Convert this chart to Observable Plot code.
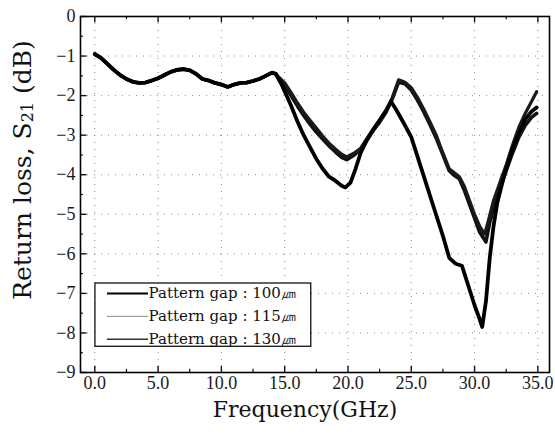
<!DOCTYPE html>
<html>
<head>
<meta charset="utf-8">
<script src="https://cdn.jsdelivr.net/npm/d3@7"></script>
<script src="https://cdn.jsdelivr.net/npm/@observablehq/plot@0.6"></script>
<style>
  html, body { margin: 0; padding: 0; background: #fff; }
  #chart svg { display: block; font-family: 'Liberation Serif', serif; }
  #chart [aria-label="x-axis tick label"] text,
  #chart [aria-label="y-axis tick label"] text { font-family: 'Liberation Serif', serif; }
</style>
</head>
<body>
<div id="chart"></div>
<script>
// ---- data ----
const seriesNames = ["Pattern gap : 100㎛", "Pattern gap : 115㎛", "Pattern gap : 130㎛"];

// common part (all three curves overlap from 0 to ~14 GHz)
const commonFreq = [0.0, 0.5, 1.0, 1.5, 2.0, 2.5, 3.0, 3.5, 4.0, 4.5, 5.0, 5.5, 6.0, 6.5, 7.0, 7.5, 8.0, 8.5, 9.0, 9.5, 10.0, 10.5, 11.0, 11.5, 12.0, 12.5, 13.0, 13.5, 14.0, 14.3];
const commonLoss = [-0.95, -1.05, -1.2, -1.35, -1.48, -1.58, -1.65, -1.68, -1.67, -1.62, -1.56, -1.48, -1.40, -1.35, -1.33, -1.36, -1.45, -1.58, -1.62, -1.68, -1.72, -1.78, -1.72, -1.68, -1.67, -1.63, -1.58, -1.50, -1.42, -1.45];

const freq100 = [14.8, 15.5, 16.0, 16.5, 17.0, 17.5, 18.0, 18.5, 19.0, 19.5, 19.8, 20.2, 20.6, 21.0, 21.5, 22.0, 22.5, 23.0, 23.4, 23.8, 24.5, 25.0, 25.5, 26.0, 26.5, 27.0, 27.5, 28.0, 28.5, 29.0, 29.5, 30.0, 30.4, 30.6, 30.9, 31.2, 31.5, 31.8, 32.2, 32.5, 33.0, 33.5, 34.0, 34.5, 34.9];
const loss100 = [-1.75, -2.25, -2.65, -3.0, -3.3, -3.6, -3.85, -4.05, -4.15, -4.28, -4.32, -4.2, -3.85, -3.45, -3.12, -2.85, -2.62, -2.38, -2.15, -2.35, -2.75, -3.05, -3.55, -4.05, -4.55, -5.05, -5.55, -6.1, -6.25, -6.3, -6.8, -7.3, -7.65, -7.85, -7.2, -6.1, -5.3, -4.7, -4.2, -3.85, -3.35, -2.95, -2.6, -2.4, -2.3];

const freq115 = [14.5, 15.0, 15.5, 16.0, 16.5, 17.0, 17.5, 18.0, 18.5, 19.0, 19.5, 19.9, 20.5, 21.0, 21.5, 22.0, 22.5, 23.0, 23.5, 24.0, 24.5, 25.0, 25.5, 26.0, 26.5, 27.0, 27.5, 28.0, 28.4, 28.8, 29.2, 29.6, 30.0, 30.4, 30.8, 31.1, 31.5, 32.0, 32.5, 33.0, 33.5, 34.0, 34.5, 34.9];
const loss115 = [-1.52, -1.68, -1.92, -2.18, -2.42, -2.62, -2.82, -3.02, -3.2, -3.35, -3.48, -3.55, -3.45, -3.33, -3.08, -2.85, -2.65, -2.4, -2.05, -1.6, -1.66, -1.8, -2.05, -2.35, -2.68, -3.02, -3.45, -3.85, -3.95, -4.05, -4.3, -4.65, -5.0, -5.3, -5.5, -5.15, -4.65, -4.2, -3.75, -3.25, -2.8, -2.45, -2.15, -1.9];

const freq130 = [14.5, 15.0, 15.5, 16.0, 16.5, 17.0, 17.5, 18.0, 18.5, 19.0, 19.5, 19.9, 20.5, 21.0, 21.5, 22.0, 22.5, 23.0, 23.5, 24.0, 24.5, 25.0, 25.5, 26.0, 26.5, 27.0, 27.5, 28.0, 28.4, 28.8, 29.2, 29.6, 30.0, 30.4, 30.9, 31.2, 31.6, 32.0, 32.5, 33.0, 33.5, 34.0, 34.5, 34.9];
const loss130 = [-1.56, -1.74, -2.0, -2.26, -2.5, -2.72, -2.92, -3.1, -3.27, -3.42, -3.56, -3.62, -3.5, -3.36, -3.12, -2.88, -2.67, -2.42, -2.08, -1.66, -1.7, -1.86, -2.12, -2.42, -2.75, -3.1, -3.5, -3.9, -4.02, -4.1, -4.4, -4.75, -5.1, -5.45, -5.7, -5.2, -4.75, -4.35, -3.9, -3.45, -3.05, -2.75, -2.55, -2.45];

const xTicks = [0, 5, 10, 15, 20, 25, 30, 35];
const xMinorTicks = [2.5, 7.5, 12.5, 17.5, 22.5, 27.5, 32.5];
const yTicks = [0, -1, -2, -3, -4, -5, -6, -7, -8, -9];
const yMinorTicks = [-0.5, -1.5, -2.5, -3.5, -4.5, -5.5, -6.5, -7.5, -8.5];
const xGrid = [0, 5, 10, 15, 20, 25, 30, 35];
const yGrid = [-1, -2, -3, -4, -5, -6, -7, -8];
const xTitle = "Frequency(GHz)";
const yTitleParts = ["Return loss, S", "21", " (dB)"];

// ---- build table ----
function build(name, f, l) {
  const rows = commonFreq.map((x, i) => ({series: name, freq: x, loss: commonLoss[i]}));
  return rows.concat(f.map((x, i) => ({series: name, freq: x, loss: l[i]})));
}
const s100 = build(seriesNames[0], freq100, loss100);
const s115 = build(seriesNames[1], freq115, loss115);
const s130 = build(seriesNames[2], freq130, loss130);

const legendRows = seriesNames.map((name, i) => ({name, row: i}));
const legendY = [-7.0, -7.58, -8.16];
const legendStroke = ["#000", "#888", "#333"];
const legendWidth = [2, 1, 1.6];

const serif2 = "DejaVu Serif";

const chart = Plot.plot({
  width: 555,
  height: 434,
  marginLeft: 80,
  marginRight: 6,
  marginTop: 16,
  marginBottom: 62,
  style: {background: "#fff", color: "#1a1a1a"},
  x: {domain: [-1.13, 35.92]},
  y: {domain: [-9, 0]},
  marks: [
    // dotted grid
    Plot.ruleX(xGrid, {x: d => d, stroke: "#8a8a8a", strokeWidth: 1, strokeDasharray: "1,6"}),
    Plot.ruleY(yGrid, {y: d => d, stroke: "#8a8a8a", strokeWidth: 1, strokeDasharray: "1,6"}),
    // inward ticks
    Plot.ruleX(xTicks, {x: d => d, y1: -9, y2: -8.84, stroke: "#111", strokeWidth: 1.4}),
    Plot.ruleX(xMinorTicks, {x: d => d, y1: -9, y2: -8.92, stroke: "#111", strokeWidth: 1.2}),
    Plot.ruleX(xTicks, {x: d => d, y1: 0, y2: -0.16, stroke: "#111", strokeWidth: 1.4}),
    Plot.ruleX(xMinorTicks, {x: d => d, y1: 0, y2: -0.08, stroke: "#111", strokeWidth: 1.2}),
    Plot.ruleY(yTicks, {y: d => d, x1: -1.13, x2: -0.62, stroke: "#111", strokeWidth: 1.4}),
    Plot.ruleY(yMinorTicks, {y: d => d, x1: -1.13, x2: -0.9, stroke: "#111", strokeWidth: 1.2}),
    // curves
    Plot.line(s130, {x: "freq", y: "loss", stroke: "#111", strokeWidth: 3.6, curve: "linear"}),
    Plot.line(s115, {x: "freq", y: "loss", stroke: "#1a1a1a", strokeWidth: 3.2, curve: "linear"}),
    Plot.line(s100, {x: "freq", y: "loss", stroke: "#000", strokeWidth: 3.8, curve: "linear"}),
    // axes (labels only)
    Plot.axisX(xTicks, {anchor: "bottom", tickSize: 0, tickPadding: 4, tickFormat: d => d.toFixed(1), fontSize: 18, label: null}),
    Plot.axisY(yTicks, {anchor: "left", tickSize: 0, tickPadding: 5, fontSize: 18, label: null}),
    // x axis title
    Plot.text([xTitle], {frameAnchor: "bottom", dx: -10, dy: 44, fontSize: 22, fontFamily: serif2, fill: "#111"}),
    // legend
    Plot.rect([0], {x1: 0.05, x2: 17.1, y1: -6.75, y2: -8.35, fill: "#fff", stroke: "#111", strokeWidth: 1.3}),
    Plot.ruleY(legendRows, {y: d => legendY[d.row], x1: 1.0, x2: 4.25, stroke: d => legendStroke[d.row], strokeWidth: d => legendWidth[d.row]}),
    Plot.text(legendRows, {x: 4.25, y: d => legendY[d.row], text: "name", textAnchor: "start", fontSize: 15, fontFamily: serif2, fill: "#111"}),
    // frame
    Plot.frame({stroke: "#000", strokeWidth: 1.6})
  ]
});
document.getElementById("chart").appendChild(chart);

// y axis title with a real subscript
const svg = d3.select(chart);
const yt = svg.append("text")
  .attr("transform", "translate(22,170) rotate(-90)")
  .attr("text-anchor", "middle")
  .attr("dominant-baseline", "central")
  .attr("font-family", serif2)
  .attr("font-size", 25)
  .attr("fill", "#111");
yt.append("tspan").text(yTitleParts[0]);
yt.append("tspan").attr("font-size", 16).attr("dy", 5).text(yTitleParts[1]);
yt.append("tspan").attr("dy", -5).text(yTitleParts[2]);
</script>
</body>
</html>
